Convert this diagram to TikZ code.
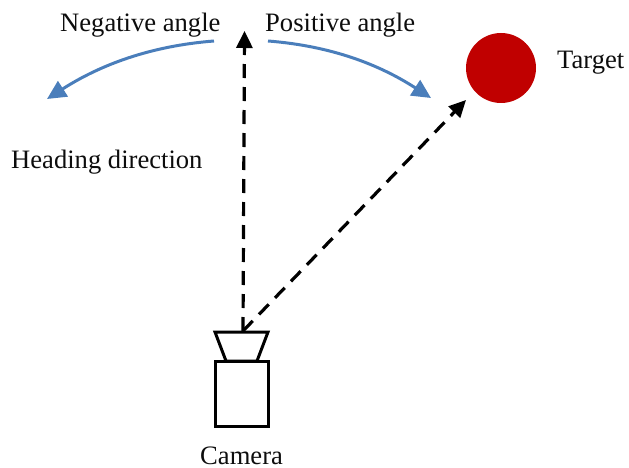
\documentclass[tikz,border=0pt]{standalone}
\usepackage{fontspec}
\setmainfont{Liberation Serif}
\usetikzlibrary{arrows.meta,shapes.geometric}
\definecolor{bluearc}{RGB}{74,126,187}
\definecolor{targetred}{RGB}{192,0,0}
\tikzset{
  x=1pt,y=-1pt,
  lbl/.style={inner sep=0pt,font=\fontsize{26.6}{30}\selectfont,text=black!95},
  shapeline/.style={draw=black,line width=3pt,line join=miter},
  sight/.style={draw=black,line width=3.2pt,dash pattern=on 14pt off 9pt,-{Triangle[length=17pt,width=16pt]}},
  turn/.style={draw=bluearc,line width=3pt,-{Triangle[length=19pt,width=18pt]}},
}
\begin{document}
\begin{tikzpicture}
\useasboundingbox (0,0) rectangle (629,468);
\node[shapeline,inner sep=0pt,rectangle,minimum height=65pt,minimum width=53pt] (body) at (241.5,393.5) {};
\draw[shapeline] (215,332) -- (268,332) -- (257,361) -- (226,361) -- cycle;
\coordinate (cam) at (243,331);
\node[circle,fill=targetred,minimum size=70pt,inner sep=0pt] (target) at (501,68) {};
\coordinate (headtip) at (244.5,31);
\coordinate (targettip) at (466,100);
\draw[sight] (cam) -- (headtip);
\draw[sight] (cam) -- (targettip);
\coordinate (ls) at (214,41);
\coordinate (le) at (47,99);
\coordinate (rs) at (268,41);
\coordinate (re) at (431,98);
\draw[turn] (ls) .. controls (150,46) and (100,65) .. (le);
\draw[turn] (rs) .. controls (332,46) and (380,65) .. (re);
\node[lbl,anchor=base west] (neg) at (60,32) {Negative angle};
\node[lbl,anchor=base west] (pos) at (265,32) {Positive angle};
\node[lbl,anchor=base west] (tgt) at (557,69) {Target};
\node[lbl,anchor=base west] (head) at (11,168) {Heading direction};
\node[lbl,anchor=base west] (camlbl) at (200,464) {Camera};
\end{tikzpicture}
\end{document}
